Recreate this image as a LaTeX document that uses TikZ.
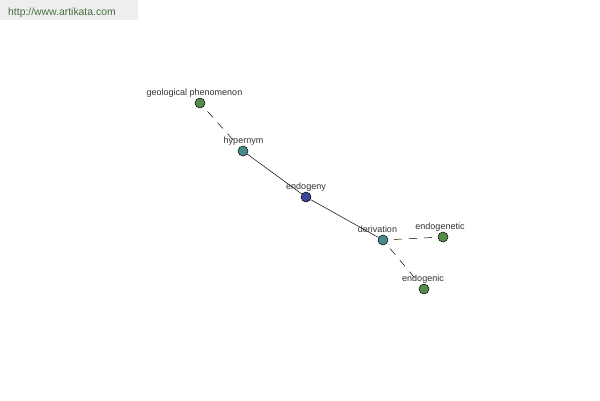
\documentclass[tikz,border=0pt]{standalone}
\usepackage{fontspec}
\setmainfont{Liberation Sans}
\definecolor{cgreen}{RGB}{82,140,72}
\definecolor{cteal}{RGB}{70,140,140}
\definecolor{cblue}{RGB}{60,68,150}
\definecolor{ctext}{RGB}{50,50,50}
\definecolor{hdrbg}{RGB}{238,238,238}
\definecolor{hdrtx}{RGB}{70,110,60}
\begin{document}
\begin{tikzpicture}[x=1pt,y=-1pt,
  dot/.style={circle,draw=black,line width=0.5pt,minimum size=10pt,inner sep=0pt},
  lbl/.style={font=\fontsize{9}{10}\selectfont,text=ctext,inner sep=0pt,anchor=base},
  solidedge/.style={draw=black,line width=0.5pt},
  dashedge/.style={draw=black,line width=0.5pt,dash pattern=on 8pt off 7pt,shorten <=6pt,shorten >=6pt}]
\useasboundingbox[fill=white] (0,0) rectangle (600,400);
\fill[hdrbg] (0,0) rectangle (138,20);
\node[font=\fontsize{10.4}{11}\selectfont,text=hdrtx,anchor=base west,inner sep=0pt] (url) at (8,15) {http://www.artikata.com};

\node[dot,fill=cgreen] (geo) at (200,103) {};
\node[dot,fill=cteal] (hyp) at (243,151) {};
\node[dot,fill=cblue] (endo) at (306,197) {};
\node[dot,fill=cteal] (der) at (383,240) {};
\node[dot,fill=cgreen] (eneti) at (443,237) {};
\node[dot,fill=cgreen] (enic) at (424,289) {};

\draw[dashedge] (geo) -- (hyp);
\draw[solidedge] (hyp) -- (endo);
\draw[solidedge] (endo) -- (der);
\draw[dashedge] (der) -- (eneti);
\draw[dashedge] (der) -- (enic);

\node[lbl] (lgeo) at (194.5,95) {geological phenomenon};
\node[lbl] (lhyp) at (243.5,143) {hypernym};
\node[lbl] (lendo) at (306,189) {endogeny};
\node[lbl] (lder) at (377.5,232) {derivation};
\node[lbl] (leneti) at (440,229) {endogenetic};
\node[lbl] (lenic) at (423,281) {endogenic};
\end{tikzpicture}
\end{document}
